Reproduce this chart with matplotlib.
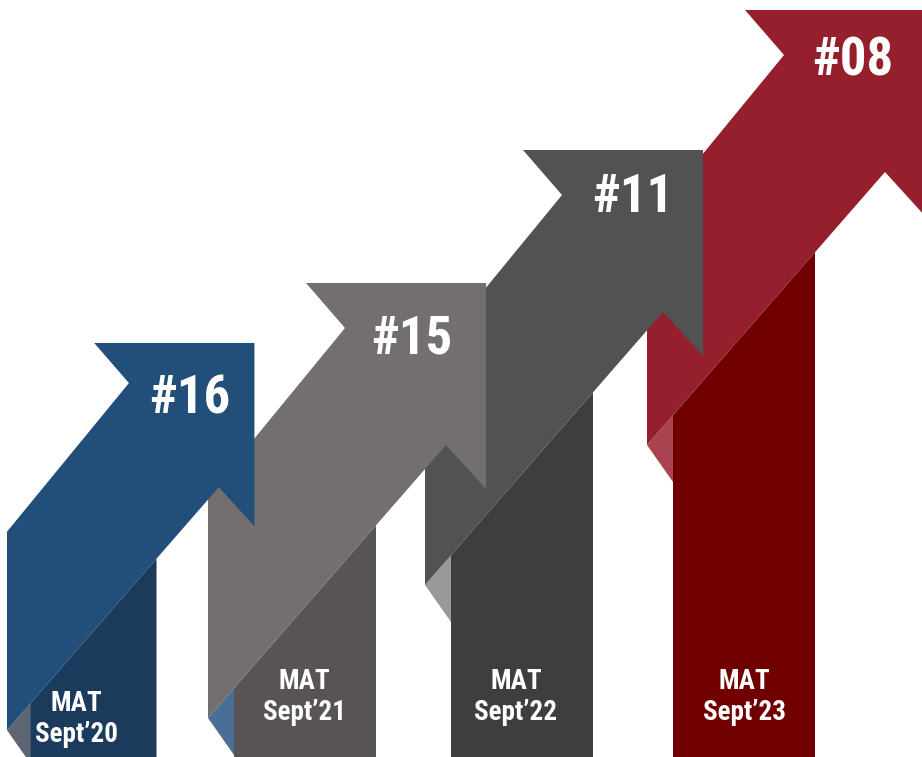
import matplotlib
matplotlib.use("Agg")
import matplotlib.pyplot as plt
from matplotlib import font_manager
from matplotlib.patches import Polygon

W, H = 922, 757   # canvas in pixels, y runs downward

ranks = ["#16", "#15", "#11", "#08"]
periods = ["MAT\nSept\u201920", "MAT\nSept\u201921", "MAT\nSept\u201922", "MAT\nSept\u201923"]

# layout of each arrow: shaft left edge, head top, size factor
x0 = [7, 208, 425, 647]
tops = [343, 283, 150, 10]
scales = [0.89, 1.0, 1.0, 1.0]
rank_dx = [183, 204, 208, 206]
rank_dy = [56, 56, 47, 51]
label_x = [76, 304, 516, 744]
label_y = [719, 697, 697, 697]

front = ["#214f7a", "#736f6e", "#525254", "#961f2e"]
band = ["#1b3b5d", "#585453", "#3e3e3f", "#700000"]
fold = ["#5d6472", "#4a6f96", "#9a9898", "#a8434f"]

# arrow template (relative to shaft left / head top)
HEAD_L = 98
NOTCH = (137, 45)
HEAD_R = 278
LOW_NOTCH = (238, 162)
RIGHT_BOT = 206
UP_DIAG = 212
LOW_DIAG = 435
BAND = (26, 168)
FOLD_BOT = 472

names = {f.name for f in font_manager.fontManager.ttflist}
FONT = "DejaVu Sans"
for fam in ["Roboto Condensed", "Liberation Sans Narrow", "Roboto"]:
    if fam in names:
        FONT = fam
        break


def lower_y(x, ax0, top, s):
    xa, ya = ax0 + LOW_NOTCH[0] * s, top + LOW_NOTCH[1] * s
    xb, yb = ax0, top + LOW_DIAG * s
    return ya + (x - xa) * (yb - ya) / (xb - xa)


fig = plt.figure(figsize=(W / 100, H / 100), dpi=100)
ax = fig.add_axes([0, 0, 1, 1])
ax.set_xlim(0, W)
ax.set_ylim(H, 0)
ax.axis("off")

for i in range(3, -1, -1):
    a, t, s = x0[i], tops[i], scales[i]
    b0, b1 = a + BAND[0] * s, a + BAND[1] * s
    # back band carrying the period label
    ax.add_patch(Polygon([(b0, lower_y(b0, a, t, s)), (b1, lower_y(b1, a, t, s)),
                          (b1, H + 5), (b0, H + 5)], closed=True,
                         facecolor=band[i], edgecolor="none"))
    # folded corner
    ax.add_patch(Polygon([(a, t + LOW_DIAG * s), (b0, lower_y(b0, a, t, s)),
                          (b0, t + FOLD_BOT * s)], closed=True,
                         facecolor=fold[i], edgecolor="none"))
    # front arrow
    pts = [(a, t + UP_DIAG * s),
           (a + NOTCH[0] * s, t + NOTCH[1] * s),
           (a + HEAD_L * s, t),
           (a + HEAD_R * s, t),
           (a + HEAD_R * s, t + RIGHT_BOT * s),
           (a + LOW_NOTCH[0] * s, t + LOW_NOTCH[1] * s),
           (a, t + LOW_DIAG * s)]
    ax.add_patch(Polygon(pts, closed=True, facecolor=front[i], edgecolor="none"))

    ax.text(a + rank_dx[i], t + rank_dy[i], ranks[i], family=FONT, weight="bold",
            fontsize=38, color="white", ha="center", va="center")
    ax.text(label_x[i], label_y[i], periods[i], family=FONT, weight="bold",
            fontsize=19.5, color="white", ha="center", va="center", linespacing=1.2)

fig.savefig("out.png", dpi=100)
